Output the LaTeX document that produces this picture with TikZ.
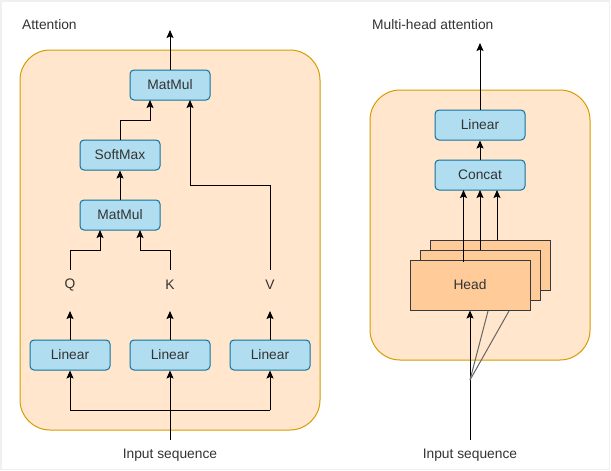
\documentclass[tikz,border=0pt]{standalone}
\usepackage{fontspec}
\setmainfont{Liberation Sans}
\usetikzlibrary{arrows.meta}
\definecolor{panelfill}{HTML}{FFE6CC}
\definecolor{panelline}{HTML}{D79B00}
\definecolor{boxfill}{HTML}{B1DDF0}
\definecolor{boxline}{HTML}{10739E}
\definecolor{headfill}{HTML}{FFCC99}
\definecolor{headline}{HTML}{36393D}
\definecolor{txt}{HTML}{333333}
\begin{document}
\begin{tikzpicture}[x=1pt,y=-1pt,
  font=\fontsize{13.8}{16}\selectfont,
  panel/.style={draw=panelline,fill=panelfill,rounded corners=30pt,line width=1pt},
  opbox/.style={draw=boxline,fill=boxfill,rounded corners=4pt,line width=1pt,minimum height=30pt,text=txt,inner sep=0pt},
  headbox/.style={draw=headline,fill=headfill,line width=1pt,minimum width=120pt,minimum height=50pt,text=txt,inner sep=0pt},
  lbl/.style={text=txt,inner sep=0pt},
  conn/.style={line width=1pt,-{Stealth[length=8pt,width=7pt,inset=1.5pt]}},
  wire/.style={line width=1pt},
  thin/.style={line width=1pt,draw=black!60}
]
\useasboundingbox (0,0) rectangle (611,471);
\draw[gray!12,line width=1.5pt] (0.75,0.75) rectangle (609.5,469.5);

% ---------- Attention panel ----------
\node[lbl,anchor=west] (tatt) at (22,25) {Attention};
\draw[panel] (20,50) rectangle (320,430);

\node[opbox,minimum width=80pt] (mm2) at (170,85) {MatMul};
\node[opbox,minimum width=80pt] (sm) at (120,155) {SoftMax};
\node[opbox,minimum width=80pt] (mm1) at (120,215) {MatMul};
\node[lbl] (q) at (70,285) {Q};
\node[lbl] (k) at (170,285) {K};
\node[lbl] (v) at (270,285) {V};
\node[opbox,minimum width=80pt] (l1) at (70,355) {Linear};
\node[opbox,minimum width=80pt] (l2) at (170,355) {Linear};
\node[opbox,minimum width=80pt] (l3) at (270,355) {Linear};
\node[lbl] (inA) at (170,455) {Input sequence};
\coordinate (outA) at (170,30);

\draw[conn] (mm2.north) -- (outA);
\draw[conn] (sm.north) -- (120,120) -- (150,120) -- (150,100);
\draw[conn] (270,270) -- (270,185) -- (190,185) -- (190,100);
\draw[conn] (mm1.north) -- (sm.south);
\draw[conn] (70,270) -- (70,250) -- (100,250) -- (100,230);
\draw[conn] (170,270) -- (170,250) -- (140,250) -- (140,230);
\draw[conn] (l1.north) -- (70,311);
\draw[conn] (l2.north) -- (170,311);
\draw[conn] (l3.north) -- (270,311);
\draw[conn] (170,440) -- (l2.south);
\draw[wire] (170,410) -- (70,410);
\draw[wire] (170,410) -- (270,410);
\draw[conn] (70,410) -- (l1.south);
\draw[conn] (270,410) -- (l3.south);

% ---------- Multi-head panel ----------
\node[lbl,anchor=west] (tmh) at (372,25) {Multi-head attention};
\draw[panel] (370,90) rectangle (590,360);

\node[opbox,minimum width=90pt] (lin) at (480,125) {Linear};
\node[opbox,minimum width=90pt] (cat) at (480,175) {Concat};
\node[headbox] (h3) at (490,265) {};
\node[headbox] (h2) at (480,275) {};
\node[headbox] (h1) at (470,285) {Head};
\coordinate (outB) at (480,43);
\coordinate (fan) at (470,380);
\node[lbl] (inB) at (470,455) {Input sequence};

\draw[conn] (lin.north) -- (outB);
\draw[conn] (cat.north) -- (lin.south);
\draw[conn] (463.5,262) -- (463.5,190);
\draw[conn] (480,250) -- (480,190);
\draw[conn] (497,240) -- (497,190);
\draw[conn] (470,440) -- (h1.south);
\draw[thin] (fan) -- (488,311);
\draw[thin] (fan) -- (509,311);
\end{tikzpicture}
\end{document}
